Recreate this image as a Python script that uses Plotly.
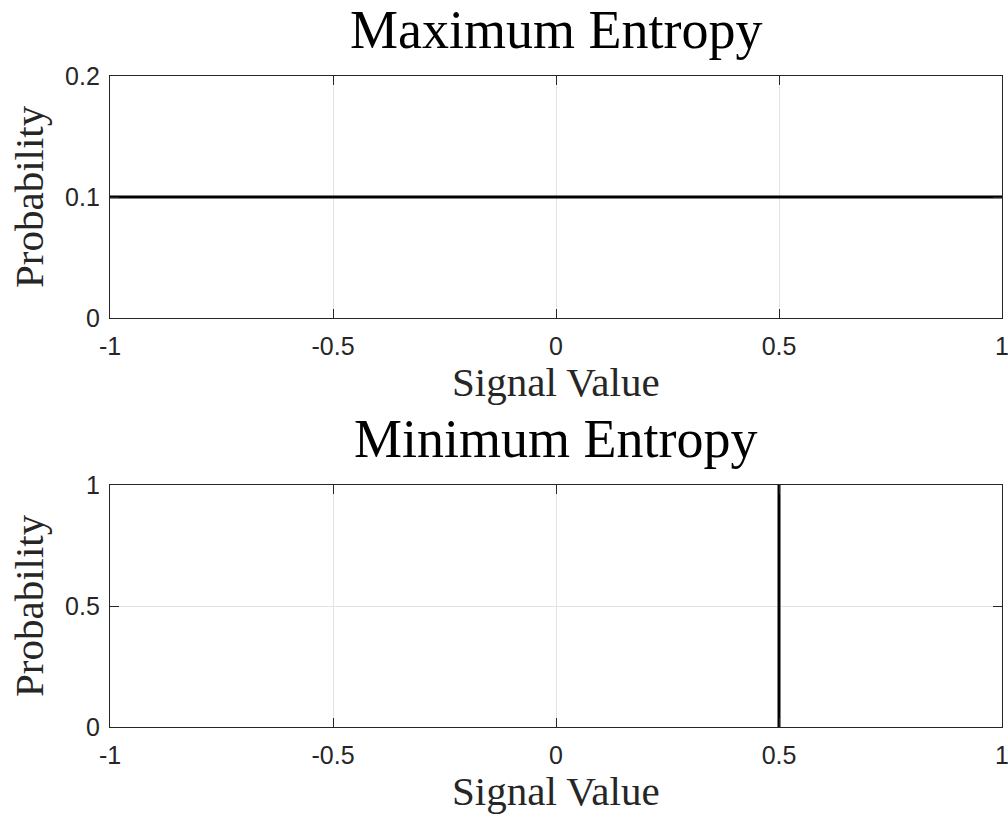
import plotly.graph_objects as go

# Signal value ranges and probability mass for the two distributions
max_entropy_x = [-1, 1]
max_entropy_p = [0.1, 0.1]
min_entropy_x = [0.5, 0.5]
min_entropy_p = [0, 1]

x_ticks = [-1, -0.5, 0, 0.5, 1]
x_tick_text = ["-1", "-0.5", "0", "0.5", "1"]
top_y_ticks = [0, 0.1, 0.2]
top_y_text = ["0", "0.1", "0.2"]
bottom_y_ticks = [0, 0.5, 1]
bottom_y_text = ["0", "0.5", "1"]

titles = ["Maximum Entropy", "Minimum Entropy"]
x_label = "Signal Value"
y_label = "Probability"

W, H = 1008, 814
AX_COLOR = "#262626"
GRID = "#e3e3e3"
SERIF = "Liberation Serif, Times New Roman, serif"
SANS = "Liberation Sans, Arial, sans-serif"

fig = go.Figure()
fig.add_trace(go.Scatter(x=max_entropy_x, y=max_entropy_p, mode="lines",
                         line=dict(color="black", width=3), xaxis="x", yaxis="y",
                         showlegend=False, hoverinfo="skip", cliponaxis=False))
fig.add_trace(go.Scatter(x=min_entropy_x, y=min_entropy_p, mode="lines",
                         line=dict(color="black", width=3), xaxis="x2", yaxis="y2",
                         showlegend=False, hoverinfo="skip"))

x_dom = [110 / W, 1002 / W]
top_dom = [1 - 318 / H, 1 - 76 / H]
bot_dom = [1 - 727 / H, 1 - 485 / H]

common = dict(ticks="inside", ticklen=9, tickwidth=1, tickcolor=AX_COLOR,
              showline=True, linecolor=AX_COLOR, linewidth=1.3, mirror="ticks",
              showgrid=True, gridcolor=GRID, gridwidth=1, zeroline=False,
              automargin=False, ticklabeloverflow="allow",
              tickfont=dict(family=SANS, size=25, color=AX_COLOR))


def xaxis(anchor):
    return dict(domain=x_dom, anchor=anchor, range=[-1, 1], tickvals=x_ticks,
                ticktext=x_tick_text, ticklabelstandoff=6, **common)


def yaxis(anchor, dom, rng, vals, text):
    return dict(domain=dom, anchor=anchor, range=rng, tickvals=vals, ticktext=text,
                ticklabelstandoff=4, **common)


fig.update_layout(
    width=W, height=H,
    margin=dict(l=0, r=0, t=0, b=0),
    paper_bgcolor="white", plot_bgcolor="white",
    xaxis=xaxis("y"),
    yaxis=yaxis("x", top_dom, [0, 0.2], top_y_ticks, top_y_text),
    xaxis2=xaxis("y2"),
    yaxis2=yaxis("x2", bot_dom, [0, 1], bottom_y_ticks, bottom_y_text),
)

x_mid = sum(x_dom) / 2
for text, dom in zip(titles, [top_dom, bot_dom]):
    fig.add_annotation(text=text, xref="paper", yref="paper", x=x_mid, y=dom[1],
                       yshift=14, xanchor="center", yanchor="bottom", showarrow=False,
                       font=dict(family=SERIF, size=54, color="black"))
    fig.add_annotation(text=x_label, xref="paper", yref="paper", x=x_mid, y=dom[0],
                       yshift=-39, xanchor="center", yanchor="top", showarrow=False,
                       font=dict(family=SERIF, size=41, color=AX_COLOR))
    fig.add_annotation(text=y_label, xref="paper", yref="paper", x=29 / W,
                       y=sum(dom) / 2, xanchor="center", yanchor="middle",
                       textangle=-90, showarrow=False,
                       font=dict(family=SERIF, size=41, color=AX_COLOR))

fig.write_html("out.html")
